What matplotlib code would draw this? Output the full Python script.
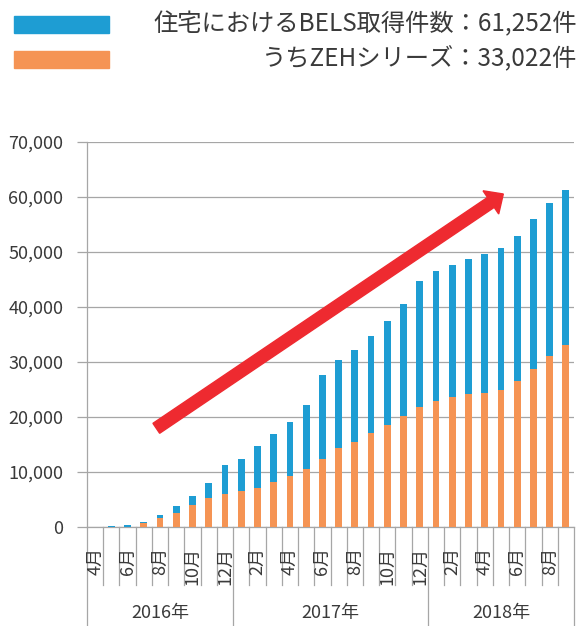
import matplotlib
matplotlib.use("Agg")
import matplotlib.pyplot as plt
from matplotlib.patches import FancyArrow, Rectangle
from matplotlib.transforms import IdentityTransform

plt.rcParams['font.family'] = ['Noto Sans CJK JP', 'DejaVu Sans']

# ---- data ----
months = ["2016-04", "2016-05", "2016-06", "2016-07", "2016-08", "2016-09", "2016-10", "2016-11", "2016-12",
          "2017-01", "2017-02", "2017-03", "2017-04", "2017-05", "2017-06", "2017-07", "2017-08", "2017-09",
          "2017-10", "2017-11", "2017-12",
          "2018-01", "2018-02", "2018-03", "2018-04", "2018-05", "2018-06", "2018-07", "2018-08", "2018-09"]
total_bels = [60, 100, 330, 1000, 2100, 3750, 5570, 7930, 11250,
              12280, 14640, 17000, 19110, 22200, 27700, 30300, 32180, 34790,
              37390, 40550, 44730,
              46550, 47580, 48670, 49700, 50790, 52850, 55940, 58850, 61252]
zeh_series = [20, 30, 60, 800, 1640, 2600, 3930, 5260, 6050,
              6590, 7080, 8160, 9190, 10460, 12280, 14420, 15450, 17030,
              18610, 20180, 21760,
              22850, 23580, 24120, 24300, 24850, 26480, 28790, 31150, 33022]
years = ["2016年", "2017年", "2018年"]
legend_labels = ["住宅におけるBELS取得件数：61,252件", "うちZEHシリーズ：33,022件"]
yticks = [0, 10000, 20000, 30000, 40000, 50000, 60000, 70000]

BLUE = '#1E9DD3'
ORANGE = '#F59454'
RED = '#EE2A30'
GRID = '#A6A6A6'
TXT = '#3A3A3A'

W, H = 582, 626
fig = plt.figure(figsize=(W / 100, H / 100), dpi=100)
ax = fig.add_axes([87 / W, (H - 527) / H, (574 - 87) / W, (527 - 142) / H])

x = list(range(len(months)))
other = [t - z for t, z in zip(total_bels, zeh_series)]
ax.bar(x, zeh_series, width=0.42, color=ORANGE, zorder=3)
ax.bar(x, other, bottom=zeh_series, width=0.42, color=BLUE, zorder=3)

ax.set_xlim(-0.5, len(months) - 0.5)
ax.set_ylim(0, 70000)
ax.set_yticks(yticks)
ax.set_yticklabels([f"{v:,}" for v in yticks], fontsize=13, color=TXT)
ax.tick_params(axis='y', length=7, width=0.9, color=GRID, pad=10)
ax.set_xticks([])
ax.grid(axis='y', color=GRID, lw=0.9, zorder=0)
for s in ['top', 'right']:
    ax.spines[s].set_visible(False)
for s in ['left', 'bottom']:
    ax.spines[s].set_color(GRID)
    ax.spines[s].set_linewidth(0.9)

# category axis: separators and labels
tr = ax.get_xaxis_transform()
ah = 527 - 142
year_bounds = [-0.5, 8.5, 20.5, 29.5]
for k in range(len(months) + 1):
    b = k - 0.5
    y_end = -99 / ah if b in year_bounds else -58 / ah
    ax.plot([b, b], [0, y_end], transform=tr, color=GRID, lw=0.9, clip_on=False)

for i, m in enumerate(months):
    mo = int(m.split('-')[1])
    if mo % 2 == 0:
        ax.text(i, -20 / ah, f"{mo}月", transform=tr, rotation=90, ha='center', va='top',
                fontsize=13, color=TXT)

for j, yl in enumerate(years):
    c = (year_bounds[j] + year_bounds[j + 1]) / 2
    ax.text(c, -86 / ah, yl, transform=tr, ha='center', va='center', fontsize=13, color=TXT)

# legend
for k, (col, lab) in enumerate(zip([BLUE, ORANGE], legend_labels)):
    top = 16 + 35 * k
    fig.add_artist(Rectangle((14 / W, (H - top - 17) / H), 95 / W, 17 / H,
                             transform=fig.transFigure, color=col))
    fig.text(577 / W, (H - (top + 8.5)) / H, lab, ha='right', va='center', fontsize=17.5, color=TXT)

# trend arrow (decorative, in pixels)
arrow = FancyArrow(156.3, H - 428.3, 347, 234.3, width=12, head_width=28, head_length=15,
                   length_includes_head=True, color=RED, transform=IdentityTransform(), zorder=5)
fig.add_artist(arrow)

fig.savefig("out.png", dpi=100)
